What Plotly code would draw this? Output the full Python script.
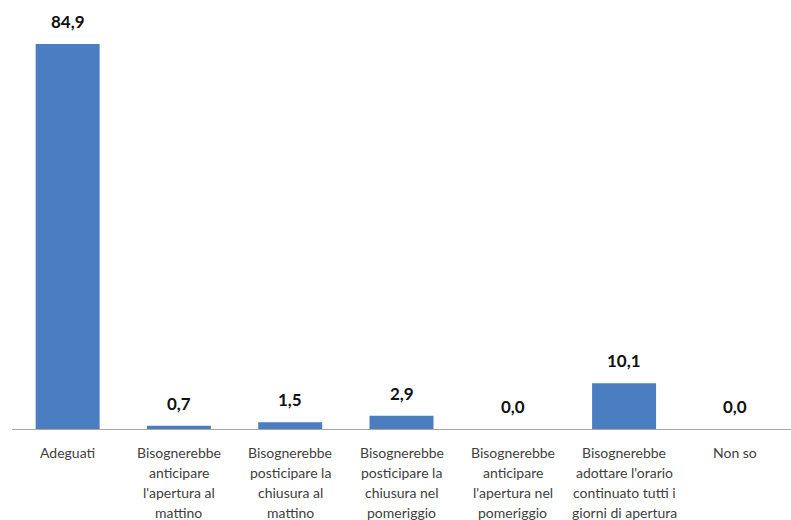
import plotly.graph_objects as go

categories = [
    "Adeguati",
    "Bisognerebbe<br>anticipare<br>l'apertura al<br>mattino",
    "Bisognerebbe<br>posticipare la<br>chiusura al<br>mattino",
    "Bisognerebbe<br>posticipare la<br>chiusura nel<br>pomeriggio",
    "Bisognerebbe<br>anticipare<br>l'apertura nel<br>pomeriggio",
    "Bisognerebbe<br>adottare l'orario<br>continuato tutti i<br>giorni di apertura",
    "Non so",
]
values = [84.9, 0.7, 1.5, 2.9, 0.0, 10.1, 0.0]
labels = [f"{v:.1f}".replace(".", ",") for v in values]

fig = go.Figure()
fig.add_trace(go.Bar(
    x=categories, y=values,
    marker=dict(color="#4a7ec0", line=dict(width=0)),
    hoverinfo="skip",
))

# value labels
for c, v, t in zip(categories, values, labels):
    fig.add_annotation(
        x=c, y=v, text=f"<b>{t}</b>", showarrow=False,
        yanchor="bottom", yshift=10,
        font=dict(family="Lato", size=17, color="#111111"),
    )

# category labels, one line at a time for Excel-like line spacing
for c in categories:
    for i, line in enumerate(c.split("<br>")):
        fig.add_annotation(
            x=c, y=0, xref="x", yref="paper", text=line, showarrow=False,
            yanchor="middle", yshift=-(23 + 20 * i),
            font=dict(family="Lato", size=14, color="#404040"),
        )

fig.update_layout(
    width=791, height=520,
    margin=dict(l=12, r=0, t=21, b=91),
    paper_bgcolor="white", plot_bgcolor="white",
    bargap=0.425,
    showlegend=False,
    xaxis=dict(
        showline=True, linecolor="#a6a6a6", linewidth=1,
        showgrid=False, ticks="", showticklabels=False,
    ),
    yaxis=dict(
        range=[0, 90], visible=False, showgrid=False, zeroline=False,
    ),
)

fig.write_html("out.html")
